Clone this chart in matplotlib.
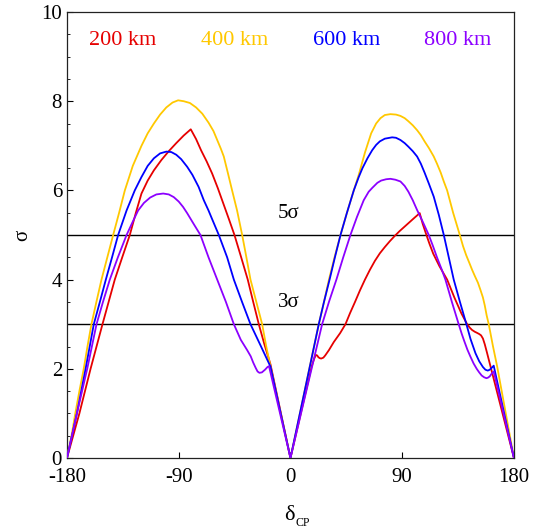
import matplotlib
matplotlib.use("Agg")
import matplotlib.pyplot as plt
from matplotlib.ticker import MultipleLocator

plt.rcParams["font.family"] = ["Liberation Serif", "DejaVu Serif"]

# Sensitivity (sigma) versus delta_CP for four baselines
baselines = ["200 km", "400 km", "600 km", "800 km"]
colors = ["#e60000", "#ffc800", "#0000ff", "#8c00ff"]

x_200 = [-180, -170, -161, -151.4, -141.5, -135.5, -129.4, -124.5, -120, -115, -110, -104, -98,
         -92, -86, -80.3, -76, -72, -67.5, -63.1, -58.5, -54, -49.5, -45.1, -39.7, -34.4, -30,
         -25.5, -21, -16.1, 0,
         17, 19, 20.5, 21.5, 22.5, 23.5, 24.7, 26.5, 28, 31, 34.9, 40, 44.3, 48, 52, 56, 60, 64,
         68, 72, 76, 80, 84, 88, 92, 96, 100, 104.1, 106.5, 109.5, 112, 115, 120, 126.2, 132,
         137.7, 142.3, 144.5, 146.3, 148.5, 150, 152, 153.5, 155, 156.5, 158.4, 180]
y_200 = [0, 1.0, 2.0, 3.0, 4.0, 4.5, 5.0, 5.5, 5.93, 6.22, 6.45, 6.68, 6.88,
         7.06, 7.23, 7.37, 7.15, 6.9, 6.65, 6.38, 6.05, 5.7, 5.35, 5.0, 4.5, 4.0, 3.5,
         3.0, 2.55, 2.1, 0,
         2.05, 2.22, 2.31, 2.3, 2.26, 2.24, 2.23, 2.25, 2.3, 2.42, 2.6, 2.8, 3.0, 3.25, 3.5, 3.76, 4.0, 4.22,
         4.42, 4.59, 4.73, 4.86, 4.98, 5.09, 5.19, 5.29, 5.39, 5.49, 5.25, 5.0, 4.8, 4.58, 4.3, 4.0, 3.6,
         3.24, 3.0, 2.92, 2.87, 2.83, 2.81, 2.78, 2.75, 2.68, 2.55, 2.35, 0]

x_400 = [-180, -176, -173.3, -170, -166.5, -163.5, -160.3, -156.3, -152.2, -147.5, -142.8, -138,
         -133.4, -127, -120, -115, -110, -105, -100, -95, -90.5, -86, -81, -76, -71, -66, -62, -59,
         -56, -53.7, -50.5, -47, -43, -38.9, -35.5, -32.2, -27.5, -22.8, -19.5, -16.1, 0,
         22.8, 27, 31, 35.5, 40.3, 45.5, 51, 55, 60, 65, 69, 72.5, 76, 80.5, 85, 88.6, 92, 95,
         98.5, 102, 105, 108, 111.5, 115.4, 118, 121, 123.5, 126.2, 128.6, 131, 133.7, 136.4, 139,
         141.5, 144, 146.3, 148.5, 151, 153, 155, 156.5, 158, 159.7, 163, 166.5, 180]
y_400 = [0, 0.55, 1.0, 1.5, 2.0, 2.5, 3.0, 3.5, 4.0, 4.5, 5.0, 5.5,
         6.0, 6.55, 7.0, 7.28, 7.5, 7.7, 7.86, 7.97, 8.02, 8.0, 7.96, 7.86, 7.72, 7.52, 7.33, 7.13,
         6.93, 6.76, 6.4, 6.0, 5.55, 5.0, 4.5, 4.0, 3.5, 3.0, 2.5, 2.05, 0,
         3.0, 3.5, 4.0, 4.5, 5.0, 5.5, 6.0, 6.35, 6.85, 7.28, 7.5, 7.62, 7.69, 7.71, 7.7, 7.67, 7.62, 7.55,
         7.46, 7.35, 7.24, 7.1, 6.95, 6.76, 6.6, 6.4, 6.2, 6.0, 5.75, 5.5, 5.25, 5.0, 4.75,
         4.55, 4.38, 4.22, 4.08, 3.93, 3.77, 3.6, 3.42, 3.2, 3.0, 2.52, 2.05, 0]

x_600 = [-180, -172, -165, -158.4, -153.5, -148.7, -143.7, -138.8, -132, -125.4, -120, -115, -110,
         -105, -100, -96, -92, -88, -83.2, -79, -74, -69.8, -66, -63, -57.7, -51, -45.6, -39,
         -32.2, -24.2, -16.1, 0,
         22.8, 27, 31.5, 35.8, 40.3, 45.5, 51, 55, 58, 62, 65.8, 69, 72, 76, 81.9, 85, 88.6, 92, 95,
         98.5, 102, 105, 108, 111.5, 115.4, 119.5, 123.5, 127.5, 131.5, 136.5, 141.7, 145, 149, 152,
         155, 157, 158.9, 160.5, 162, 163.7, 180]
y_600 = [0, 1.0, 2.0, 3.0, 3.5, 4.0, 4.5, 5.0, 5.55, 6.0, 6.3, 6.55, 6.72,
         6.83, 6.87, 6.86, 6.8, 6.7, 6.53, 6.35, 6.08, 5.78, 5.55, 5.35, 5.0, 4.5, 4.0, 3.5,
         3.0, 2.53, 2.05, 0,
         3.0, 3.5, 4.0, 4.5, 5.0, 5.5, 6.0, 6.3, 6.5, 6.72, 6.9, 7.02, 7.1, 7.16, 7.19, 7.18, 7.13, 7.06, 6.98,
         6.88, 6.76, 6.6, 6.4, 6.15, 5.86, 5.45, 5.0, 4.5, 4.0, 3.5, 3.0, 2.67, 2.35, 2.17,
         2.04, 1.98, 1.96, 1.98, 2.02, 2.07, 0]

x_800 = [-180, -172, -163.7, -156.2, -151, -145.5, -139, -132, -127, -122.7, -118, -113, -108,
         -102.5, -98, -94, -90, -86.5, -83.2, -78, -72.5, -66, -59, -52, -45.6, -40, -34.9, -32,
         -30, -28, -26.5, -25, -23, -20.5, -18.5, -17.3, 0,
         25.5, 31, 37, 42.5, 48.3, 53.5, 59, 63, 66, 70, 73, 77, 80.5, 84.5, 88.6, 92, 95, 98.5, 102,
         106.5, 111.4, 114.8, 118, 121.5, 124.8, 130, 135.5, 138, 140, 142.5, 145, 147.5, 150, 152,
         154, 156, 157.8, 159, 160.5, 162, 163.7, 180]
y_800 = [0, 1.0, 2.0, 3.0, 3.5, 4.0, 4.5, 5.0, 5.3, 5.55, 5.72, 5.84, 5.91,
         5.93, 5.91, 5.85, 5.75, 5.63, 5.49, 5.25, 5.0, 4.5, 4.0, 3.5, 3.0, 2.65, 2.42, 2.28,
         2.14, 2.02, 1.94, 1.91, 1.92, 1.98, 2.04, 2.06, 0,
         3.0, 3.5, 4.0, 4.5, 5.0, 5.4, 5.78, 5.97, 6.06, 6.17, 6.22, 6.25, 6.26, 6.24, 6.2, 6.1, 5.97, 5.78, 5.56,
         5.3, 5.0, 4.75, 4.5, 4.25, 4.0, 3.5, 3.0, 2.78, 2.62, 2.43, 2.27, 2.12, 2.0, 1.92,
         1.85, 1.81, 1.79, 1.8, 1.83, 1.89, 1.94, 0]

series_x = [x_200, x_400, x_600, x_800]
series_y = [y_200, y_400, y_600, y_800]
label_x = [-135, -45, 45, 135]

sigma_levels = [3, 5]
xticks = [-180, -90, 0, 90, 180]
yticks = [0, 2, 4, 6, 8, 10]

fig = plt.figure(figsize=(5.41, 5.29), dpi=100)
ax = fig.add_axes([0.1238, 0.1342, 0.8262, 0.8431])

for lev in sigma_levels:
    ax.axhline(lev, color="black", lw=1.0, zorder=1)
    ax.text(-1.5, lev + 0.49, f"{lev}σ", fontsize=15, ha="center", va="center")

for xs, ys, c in zip(series_x, series_y, colors):
    ax.plot(xs, ys, color=c, lw=1.3, zorder=3, solid_joinstyle="round")

for name, lx, c in zip(baselines, label_x, colors):
    ax.text(lx, 9.37, name, color=c, fontsize=16, ha="center", va="center")

ax.set_xlim(-180, 180)
ax.set_ylim(0, 10)
ax.set_xticks(xticks)
ax.set_xticklabels([str(t) for t in xticks])
ax.set_yticks(yticks)
ax.yaxis.set_minor_locator(MultipleLocator(0.5))
ax.tick_params(axis="both", which="both", direction="in", top=False, right=False, labelsize=15)
ax.tick_params(axis="x", which="major", length=4, pad=7)
ax.tick_params(axis="y", which="major", length=4, pad=3.5)
ax.tick_params(axis="y", which="minor", length=2.2)
for sp in ax.spines.values():
    sp.set_linewidth(0.9)
    sp.set_color("#222222")

ax.set_ylabel("σ", fontsize=15)
ax.yaxis.set_label_coords(-0.078, 0.5)

fig.text(289.5 / 541, 1 - 515 / 529, "δ", fontsize=16, ha="center", va="center")
fig.text(295 / 541, 1 - 523 / 529, "CP", fontsize=8.5, ha="left", va="center")

fig.savefig("out.png", dpi=100)
